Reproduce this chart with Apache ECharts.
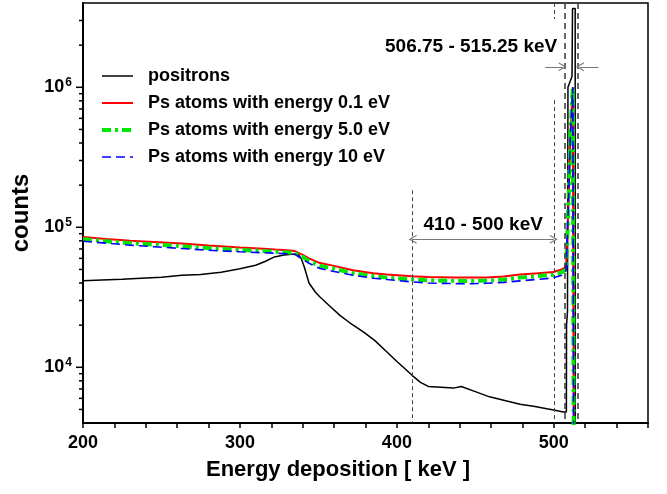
<!DOCTYPE html>
<html><head><meta charset="utf-8">
<script src="https://cdn.jsdelivr.net/npm/echarts@6/dist/echarts.min.js"></script>
<style>html,body{margin:0;padding:0;background:#fff}#c{width:667px;height:494px}</style>
</head><body><div id="c"></div>
<script>
const FONT = '"Liberation Sans Narrow","Arial Narrow","Liberation Sans",Arial,sans-serif';

// x axis
const xMin = 200, xMax = 560, xTickStep = 20;
// y axis (log)
const yMin = 4000, yMax = 4000000;
const yMajorTicks = [10000, 100000, 1000000];
const yMinorTicks = [5000, 6000, 7000, 8000, 9000,
  20000, 30000, 40000, 50000, 60000, 70000, 80000, 90000,
  200000, 300000, 400000, 500000, 600000, 700000, 800000, 900000,
  2000000, 3000000];

const seriesNames = ['positrons', 'Ps atoms with energy 0.1 eV', 'Ps atoms with energy 5.0 eV', 'Ps atoms with energy 10 eV'];

// positrons
const posE = [200, 212, 225, 237, 250, 263, 275, 288, 300, 310, 316, 322, 328, 333, 337, 339, 341, 344, 348, 351, 357, 363.7, 370, 378.6, 386, 393.5, 400, 405, 409.5, 415, 420, 428, 436, 441, 450, 459, 470, 478.5, 488, 495.5, 500, 506, 508.0, 508.1, 508.7, 509.0, 511.6, 511.9, 513.6, 513.7];
const posC = [41500, 42000, 42500, 43200, 44000, 45500, 46000, 47800, 50500, 53500, 57000, 61400, 63500, 64300, 64500, 60000, 52000, 40000, 34500, 31800, 27500, 23500, 20800, 17900, 15500, 12900, 11000, 9800, 8800, 7800, 7300, 7200, 7100, 7300, 6700, 6150, 5750, 5450, 5250, 5050, 4950, 4800, 4800, 20000, 25000, 1000000, 1200000, 3650000, 3650000, 1];

// Ps atoms (common energy grid)
const psE = [200, 215, 230, 245, 263, 280, 300, 315, 322.5, 330, 335, 340, 344, 351, 360, 372, 385, 393.5, 409.5, 420, 436, 447, 457, 468, 478.5, 490, 499.7, 505, 507, 507.9, 509.4, 510.6, 512.1, 513.3, 513.4];
const ps01 = [85300, 82500, 80000, 78500, 76600, 74000, 71800, 70300, 69300, 68500, 67600, 63500, 59900, 55500, 53000, 49300, 47000, 46000, 44700, 44200, 43800, 43700, 43800, 44500, 46000, 47000, 48000, 49900, 51500, 56000, 156000, 470000, 1000000, 1000000, 1];
const ps50 = [82200, 79500, 77000, 75300, 73300, 71000, 69000, 67700, 66900, 66200, 65500, 61500, 57300, 53000, 50600, 47000, 44800, 43700, 42400, 41800, 41500, 41400, 41600, 42300, 43700, 44800, 45800, 47600, 49500, 53000, 156000, 470000, 1000000, 1000000, 1];
const ps10 = [79400, 77000, 74500, 72700, 70500, 68500, 66800, 65800, 65300, 64700, 64000, 59000, 55400, 50700, 48300, 45500, 43300, 42400, 40700, 40000, 39600, 39500, 39800, 40400, 41400, 42500, 43500, 45500, 47000, 50000, 156000, 470000, 1000000, 1000000, 1];

// annotation values
const winA = [410, 500], winB = [506.75, 515.25];
const winALabel = '410 - 500 keV', winBLabel = '506.75 - 515.25 keV';

const pair = (xs, ys) => xs.map((x, i) => [x, ys[i]]);

const styles = [
  {color: '#000000', width: 1.5, type: 'solid'},
  {color: '#ff0000', width: 2, type: 'solid'},
  {color: '#00e600', width: 4, type: [9, 4, 3, 4]},
  {color: '#0000ff', width: 1.6, type: [9, 5]}
];

const thin = {type: [4, 3], color: '#444', width: 1};
const thick = {type: [6, 4], color: '#444', width: 1.6};
const chevron = 'path://M5,0 L10,10 L8.6,10 L5,3 L1.4,10 L0,10 Z';
const arrowStyle = {type: 'solid', color: '#777', width: 1};

const chart = echarts.init(document.getElementById('c'), null, {renderer: 'canvas'});
chart.setOption({
  animation: false,
  backgroundColor: '#fff',
  textStyle: {fontFamily: FONT, fontWeight: 'bold', color: '#000'},
  grid: {left: 83, right: 19, top: 3, bottom: 71, containLabel: false, outerBoundsMode: 'none',
    show: true, borderColor: '#000', borderWidth: 1.5, backgroundColor: 'transparent'},
  legend: {
    data: seriesNames.map((n, i) => ({name: n, lineStyle: {width: styles[i].width, type: styles[i].type, color: styles[i].color}})),
    orient: 'vertical', left: 95, top: 62,
    itemWidth: 31, itemHeight: 14, itemGap: 9,
    itemStyle: {opacity: 0},
    textStyle: {fontFamily: FONT, fontWeight: 'bold', fontSize: 18, color: '#000', padding: [0, 0, 0, 10]},
    selectedMode: false
  },
  xAxis: {
    type: 'value', min: xMin, max: xMax, interval: xTickStep,
    name: 'Energy deposition [ keV ]', nameLocation: 'middle', nameGap: 36,
    nameTextStyle: {fontFamily: FONT, fontWeight: 'bold', fontSize: 22, color: '#000', padding: [0, 55, 0, 0]},
    axisLine: {lineStyle: {color: '#000', width: 2}},
    axisTick: {length: 5, lineStyle: {color: '#000', width: 1.5}},
    axisLabel: {fontFamily: FONT, fontWeight: 'bold', fontSize: 18, color: '#000', margin: 11,
      formatter: v => (v % 100 === 0 && v < 560) ? String(v) : ''},
    splitLine: {show: false}
  },
  yAxis: {
    type: 'log', logBase: 10, min: yMin, max: yMax,
    name: 'counts', nameLocation: 'middle', nameGap: 31, nameRotate: 90,
    nameTextStyle: {fontFamily: FONT, fontWeight: 'bold', fontSize: 24, color: '#000'},
    axisLine: {lineStyle: {color: '#000', width: 2}},
    axisTick: {show: false},
    axisLabel: {margin: 11,
      formatter: v => { const e = Math.log10(v), r = Math.round(e); return Math.abs(e - r) > 1e-6 ? '' : '{b|10}{s|' + r + '}'; },
      rich: {
        b: {fontFamily: FONT, fontWeight: 'bold', fontSize: 18, color: '#000'},
        s: {fontFamily: FONT, fontWeight: 'bold', fontSize: 12, color: '#000', verticalAlign: 'bottom', padding: [0, 0, 10, 1]}
      }},
    splitLine: {show: false}
  },
  series: [
    {
      name: seriesNames[0], type: 'line', data: pair(posE, posC), symbol: 'none',
      lineStyle: styles[0], itemStyle: {color: styles[0].color}, z: 2,
      markLine: {
        silent: true, symbol: 'none', label: {show: false}, animation: false,
        data: [
          [{coord: [winA[0], 184000], lineStyle: thin}, {coord: [winA[0], yMin]}],
          [{coord: [winA[1], 810000], lineStyle: thin}, {coord: [winA[1], yMin]}],
          [{coord: [winA[1], yMax], lineStyle: thin}, {coord: [winA[1], 3070000]}],
          [{coord: [winB[0], yMax], lineStyle: thick}, {coord: [winB[0], yMin]}],
          [{coord: [winB[1], yMax], lineStyle: thick}, {coord: [winB[1], yMin]}],
          [{coord: [winA[0], 82200], lineStyle: arrowStyle, symbol: chevron, symbolSize: [9, 8]},
           {coord: [winA[1], 82200], symbol: chevron, symbolSize: [9, 8]}],
          [{coord: [494.5, 1400000], lineStyle: arrowStyle, symbol: 'none'},
           {coord: [505.6, 1400000], symbol: chevron, symbolSize: [9, 8]}],
          [{coord: [528.5, 1400000], lineStyle: arrowStyle, symbol: 'none'},
           {coord: [516.6, 1400000], symbol: chevron, symbolSize: [9, 8]}]
        ]
      },
      markPoint: {
        silent: true, symbol: 'circle', symbolSize: 0, animation: false,
        label: {show: true, position: 'inside', fontFamily: FONT, fontWeight: 'bold', color: '#000'},
        data: [
          {coord: [455, 105000], label: {formatter: winALabel, fontSize: 19}},
          {coord: [447.3, 1950000], label: {formatter: winBLabel, fontSize: 19}}
        ]
      }
    },
    {name: seriesNames[1], type: 'line', data: pair(psE, ps01), symbol: 'none',
      lineStyle: styles[1], itemStyle: {color: styles[1].color}, z: 3},
    {name: seriesNames[2], type: 'line', data: pair(psE, ps50), symbol: 'none',
      lineStyle: styles[2], itemStyle: {color: styles[2].color}, z: 4},
    {name: seriesNames[3], type: 'line', data: pair(psE, ps10), symbol: 'none',
      lineStyle: styles[3], itemStyle: {color: styles[3].color}, z: 5},
    {
      name: 'yticks', type: 'custom', silent: true, z: 10,
      data: yMajorTicks.map(v => [xMin, v, 1]).concat(yMinorTicks.map(v => [xMin, v, 0])),
      renderItem: (params, api) => {
        const p = api.coord([api.value(0), api.value(1)]);
        const len = api.value(2) ? 7 : 4;
        return {type: 'line', shape: {x1: p[0] - len, y1: p[1], x2: p[0], y2: p[1]}, style: {stroke: '#000', lineWidth: 1.5}};
      }
    }
  ]
});
</script></body></html>
